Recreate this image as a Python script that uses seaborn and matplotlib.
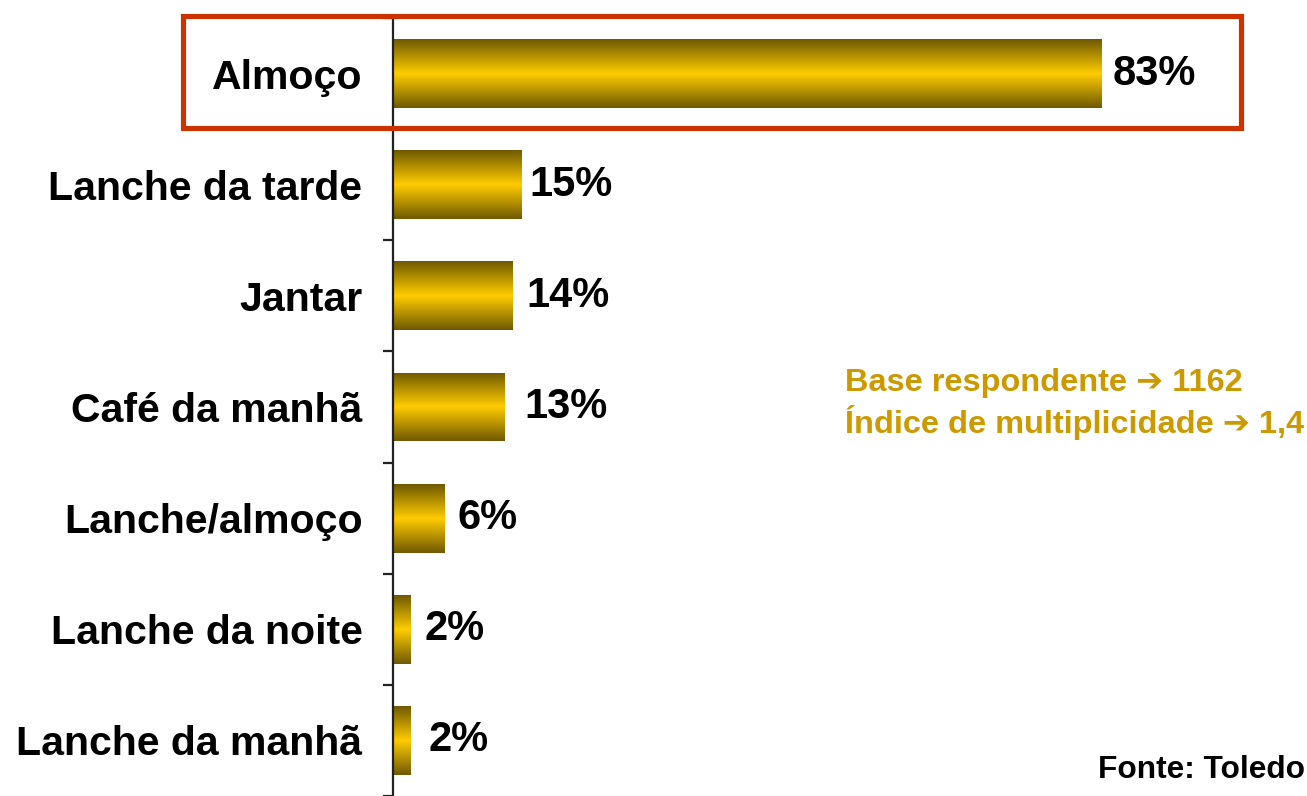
import matplotlib
matplotlib.use("Agg")
import matplotlib.pyplot as plt
import seaborn as sns
import numpy as np
import pandas as pd
from matplotlib.colors import LinearSegmentedColormap
from matplotlib.patches import Rectangle

categories = ["Almoço", "Lanche da tarde", "Jantar", "Café da manhã",
              "Lanche/almoço", "Lanche da noite", "Lanche da manhã"]
values = [83, 15, 14, 13, 6, 2, 2]
value_labels = ["83%", "15%", "14%", "13%", "6%", "2%", "2%"]
note_lines = ["Base respondente \u2794 1162", "Índice de multiplicidade \u2794 1,4"]
source_text = "Fonte: Toledo"

sns.set_theme(style="white")
plt.rcParams['font.family'] = ['Liberation Sans', 'DejaVu Sans']

W, H = 1307, 796
fig = plt.figure(figsize=(W / 100, H / 100), dpi=100)
ax = fig.add_axes([393 / W, 0, (W - 393) / W, 778 / H])

df = pd.DataFrame({"cat": categories, "val": values})
sns.barplot(data=df, x="val", y="cat", orient="h", width=0.62, ax=ax,
            color="#FFCC00", edgecolor="none")

cmap = LinearSegmentedColormap.from_list(
    "gold", [(0.0, "#6E5900"), (0.5, "#FFCC00"), (1.0, "#6E5900")])
grad = np.linspace(0, 1, 256).reshape(-1, 1)
for p in ax.patches:
    x0, y0 = p.get_x(), p.get_y()
    w, h = p.get_width(), p.get_height()
    im = ax.imshow(grad, extent=[x0, x0 + w, y0 + h, y0], aspect="auto",
                   cmap=cmap, zorder=2, interpolation="bilinear")
    im.set_clip_path(p)
    p.set_facecolor("none")

ax.set_xlim(0, 107)
ax.set_ylim(6.5, -0.5)
ax.set_xlabel("")
ax.set_ylabel("")
ax.set_xticks([])
for s in ["top", "right", "bottom"]:
    ax.spines[s].set_visible(False)
ax.spines["left"].set_color("#222222")
ax.spines["left"].set_linewidth(1.6)

ax.set_yticks(range(len(categories)))
ax.set_yticklabels(categories, fontsize=29.5, fontweight="bold", color="black")
ax.tick_params(axis="y", which="major", length=0, pad=22)
ax.set_yticks(np.arange(-0.5, len(categories) + 0.5, 1), minor=True)
ax.tick_params(axis="y", which="minor", length=7, width=1.6, color="#222222", left=True)

offsets = [7.5, 5.7, 9.6, 14.4, 9.7, 10.2, 13]
for i, (v, lab) in enumerate(zip(values, value_labels)):
    ax.annotate(lab, xy=(v, i), xytext=(offsets[i], 0), textcoords="offset points",
                ha="left", va="center", fontsize=30, fontweight="bold", color="black")

fig.add_artist(Rectangle((183 / W, 1 - 127.5 / H), (1240.5 - 183) / W, 112 / H,
                         transform=fig.transFigure, fill=False,
                         edgecolor="#CC3300", linewidth=3.7, zorder=1))

fig.text(845 / W, 1 - 383 / H, note_lines[0], fontsize=23.4, fontweight="bold",
         color="#CC9900", ha="left", va="center")
fig.text(845 / W, 1 - 423 / H, note_lines[1], fontsize=23.4, fontweight="bold",
         color="#CC9900", ha="left", va="center")
fig.text(1305 / W, 1 - 770 / H, source_text, fontsize=22.8, fontweight="bold",
         color="black", ha="right", va="center")

fig.savefig("out.png", dpi=100, facecolor="white")
